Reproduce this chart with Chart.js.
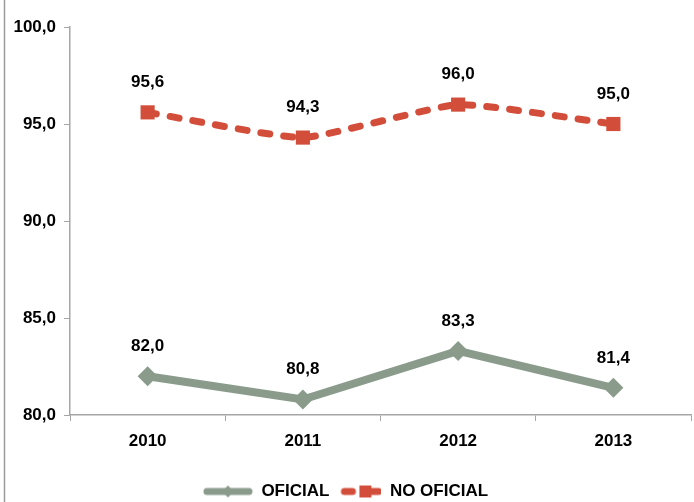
<!DOCTYPE html>
<html>
<head>
<meta charset="utf-8">
<script src="https://cdn.jsdelivr.net/npm/chart.js@4"></script>
<style>
  html, body { margin: 0; background: #fff; }
</style>
</head>
<body>
<canvas id="chart" width="694" height="502"></canvas>
<script>
const years = ["2010", "2011", "2012", "2013"]
const oficial = [82.0, 80.8, 83.3, 81.4]
const noOficial = [95.6, 94.3, 96.0, 95.0]
const yTicks = [80, 85, 90, 95, 100]

const FONT = "'Liberation Sans Narrow', 'Arial Narrow', 'Liberation Sans', Arial, sans-serif"
const FSIZE = 17
const GREEN = "#8a9b8c"
const RED = "#d34e3a"
const AXIS = "#a6a6a6"

const fmt = v => v.toFixed(1).replace(".", ",")

function legendIcon(color, dashed) {
  const c = document.createElement("canvas")
  c.width = 50
  c.height = 20
  const g = c.getContext("2d")
  g.strokeStyle = color
  g.fillStyle = color
  g.lineWidth = 7
  g.lineCap = "round"
  if (dashed) {
    g.beginPath(); g.moveTo(13, 10); g.lineTo(21, 10); g.stroke()
    g.beginPath(); g.moveTo(34, 10); g.lineTo(47, 10); g.stroke()
    g.fillRect(28, 4, 12, 12)
  } else {
    g.beginPath(); g.moveTo(4, 10); g.lineTo(46, 10); g.stroke()
    g.beginPath()
    g.moveTo(25, 4); g.lineTo(31, 10); g.lineTo(25, 16); g.lineTo(19, 10)
    g.closePath(); g.fill()
  }
  return c
}

const valueLabels = {
  id: "valueLabels",
  afterDatasetsDraw(chart) {
    const ctx = chart.ctx
    ctx.save()
    ctx.font = "bold " + FSIZE + "px " + FONT
    ctx.fillStyle = "#000"
    ctx.textAlign = "center"
    ctx.textBaseline = "middle"
    chart.data.datasets.forEach((ds, i) => {
      chart.getDatasetMeta(i).data.forEach((pt, j) => {
        ctx.fillText(fmt(ds.data[j]), pt.x, pt.y - 30)
      })
    })
    ctx.restore()
  }
}

// thin frame line on the left edge
const leftFrame = {
  id: "leftFrame",
  beforeDraw(chart) {
    const ctx = chart.ctx
    ctx.save()
    ctx.strokeStyle = "#9a9a9a"
    ctx.lineWidth = 1.5
    ctx.beginPath()
    ctx.moveTo(4.5, 0)
    ctx.lineTo(4.5, 502)
    ctx.stroke()
    ctx.restore()
  }
}

new Chart(document.getElementById("chart"), {
  type: "line",
  data: {
    labels: years,
    datasets: [
      {
        label: "OFICIAL",
        data: oficial,
        borderColor: GREEN,
        backgroundColor: GREEN,
        borderWidth: 8,
        pointStyle: "rectRot",
        pointRadius: 10,
        pointBorderWidth: 0,
        pointBackgroundColor: GREEN,
        tension: 0
      },
      {
        label: "NO OFICIAL",
        data: noOficial,
        borderColor: RED,
        backgroundColor: RED,
        borderWidth: 7,
        borderDash: [9, 14],
        borderCapStyle: "round",
        pointStyle: "rect",
        pointRadius: 10,
        pointBorderWidth: 0,
        pointBackgroundColor: RED,
        tension: 0.15
      }
    ]
  },
  options: {
    responsive: false,
    animation: false,
    layout: { autoPadding: false, padding: { left: 0, top: 27, right: 3, bottom: -8 } },
    scales: {
      x: {
        offset: true,
        grid: { offset: true, drawOnChartArea: false, color: AXIS, tickLength: 6 },
        border: { color: AXIS, width: 1.5 },
        ticks: { color: "#000", font: { family: FONT, size: FSIZE, weight: "bold" }, padding: 10 },
        afterFit: s => { s.height = 66; s.paddingLeft = 0; s.paddingRight = 0 }
      },
      y: {
        min: 80,
        max: 100,
        afterBuildTicks: s => { s.ticks = yTicks.map(v => ({ value: v })) },
        grid: { drawOnChartArea: false, color: AXIS, tickLength: 6 },
        border: { color: AXIS, width: 1.5 },
        ticks: { color: "#000", font: { family: FONT, size: FSIZE, weight: "bold" }, padding: 8, callback: v => fmt(v) },
        afterFit: s => { s.width = 70 }
      }
    },
    plugins: {
      tooltip: { enabled: false },
      legend: {
        position: "bottom",
        labels: {
          usePointStyle: true,
          pointStyleWidth: 50,
          color: "#000",
          font: { family: FONT, size: FSIZE, weight: "bold" },
          padding: 2,
          generateLabels: () => [
            { text: "OFICIAL", pointStyle: legendIcon(GREEN, false), fillStyle: GREEN, strokeStyle: GREEN, lineWidth: 0, datasetIndex: 0 },
            { text: "NO OFICIAL", pointStyle: legendIcon(RED, true), fillStyle: RED, strokeStyle: RED, lineWidth: 0, datasetIndex: 1 }
          ]
        }
      }
    }
  },
  plugins: [valueLabels, leftFrame]
})
</script>
</body>
</html>
